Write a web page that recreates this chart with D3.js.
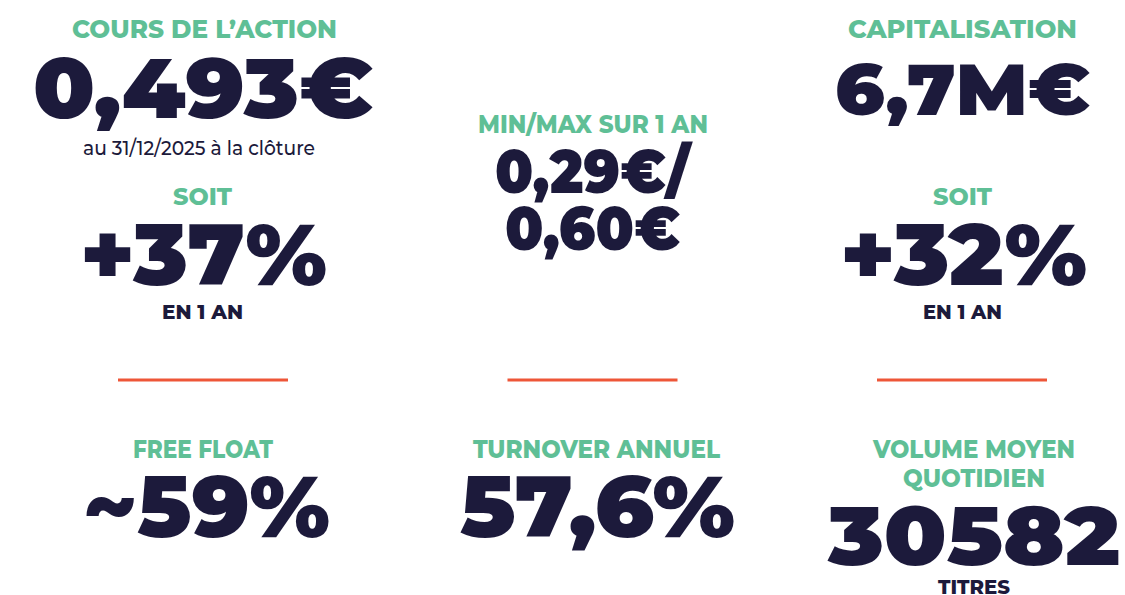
<!DOCTYPE html>
<html><head><meta charset="utf-8">
<script src="https://cdn.jsdelivr.net/npm/d3@7/dist/d3.min.js"></script>
<style>html,body{margin:0;padding:0;background:#fff;}svg{display:block;}</style>
</head><body>
<script>
// ---- data ----
const columns = ["gauche", "centre", "droite"];
const titles = ["COURS DE L’ACTION", "MIN/MAX SUR 1 AN", "CAPITALISATION", "SOIT", "SOIT", "FREE FLOAT", "TURNOVER ANNUEL", "VOLUME MOYEN", "QUOTIDIEN"];
const values = ["0,493€", "0,29€/", "0,60€", "6,7M€", "+37%", "+32%", "~59%", "57,6%", "30582"];
const notes = ["au 31/12/2025 à la clôture", "EN 1 AN", "EN 1 AN", "TITRES"];

// ---- style ----
const GREEN = "#5fbf96", NAVY = "#1c1a3b", ORANGE = "#ee5638";
const W = 1125, H = 595;
const FONT = "Montserrat, Inter, Lato, 'Noto Sans', sans-serif";

const svg = d3.select("body").append("svg").attr("width", W).attr("height", H);

const colX = d3.scalePoint().domain(columns).range([203, 963]).padding(0);
const dx = {gauche: 0, centre: -170, droite: 0};
const cx = (c, off) => colX(c) + (c === "centre" ? -1 * 0 : 0) + (off || 0);

// layout: [kind, index, column, xOffset, baseline, size, weight, colour, width]
const layout = [
  ["t", 0, "gauche", 1.5, 38, 25, 800, GREEN, 265],
  ["v", 0, "gauche", 0, 118, 84, 900, NAVY, 340],
  ["n", 0, "gauche", -4, 155, 20, 500, NAVY, 232],
  ["t", 3, "gauche", -0.5, 205, 24, 800, GREEN, 59],
  ["v", 4, "gauche", 0.5, 285, 86, 900, NAVY, 247],
  ["n", 1, "gauche", -0.5, 319, 19, 800, NAVY, 81],
  ["t", 5, "gauche", 0, 458, 25, 800, GREEN, 140],
  ["v", 6, "gauche", 3.5, 537, 86, 900, NAVY, 247],

  ["t", 1, "centre", 10, 133, 25, 800, GREEN, 230],
  ["v", 1, "centre", 9.5, 193, 61, 900, NAVY, 195],
  ["v", 2, "centre", 9.5, 250, 61, 900, NAVY, 175],
  ["t", 6, "centre", 13.5, 458, 25, 800, GREEN, 247],
  ["v", 7, "centre", 14.5, 537, 86, 900, NAVY, 275],

  ["t", 2, "droite", -0.5, 38, 25, 800, GREEN, 229],
  ["v", 3, "droite", -0.5, 115, 72, 900, NAVY, 255],
  ["t", 4, "droite", -0.5, 205, 24, 800, GREEN, 59],
  ["v", 5, "droite", 0.5, 285, 86, 900, NAVY, 247],
  ["n", 2, "droite", -0.5, 319, 19, 800, NAVY, 79],
  ["t", 7, "droite", 11, 458, 25, 800, GREEN, 202],
  ["t", 8, "droite", 11, 487, 25, 800, GREEN, 142],
  ["v", 8, "droite", 11, 565, 82, 900, NAVY, 292],
  ["n", 3, "droite", 11, 594, 19, 800, NAVY, 72]
];
const src = {t: titles, v: values, n: notes};

// centre column centre is at ~593
colX.range([203, 963]);
const centers = {gauche: 203, centre: 583, droite: 963};

svg.selectAll("text.kpi").data(layout).join("text")
  .attr("class", "kpi")
  .attr("x", d => centers[d[2]] + d[3])
  .attr("y", d => d[4])
  .attr("text-anchor", "middle")
  .attr("font-family", FONT)
  .attr("font-size", d => d[5])
  .attr("font-weight", d => d[6])
  .attr("fill", d => d[7])
  .attr("textLength", d => d[8])
  .attr("lengthAdjust", "spacingAndGlyphs")
  .text(d => src[d[0]][d[1]]);

// orange separators
const sepX = d3.scaleLinear().domain([0, 2]).range([203, 962]);
svg.selectAll("line.sep").data(columns).join("line")
  .attr("class", "sep")
  .attr("x1", (d, i) => (i === 1 ? 592.5 : sepX(i)) - 85)
  .attr("x2", (d, i) => (i === 1 ? 592.5 : sepX(i)) + 85)
  .attr("y1", 380).attr("y2", 380)
  .attr("stroke", ORANGE).attr("stroke-width", 3);
</script>
</body></html>
